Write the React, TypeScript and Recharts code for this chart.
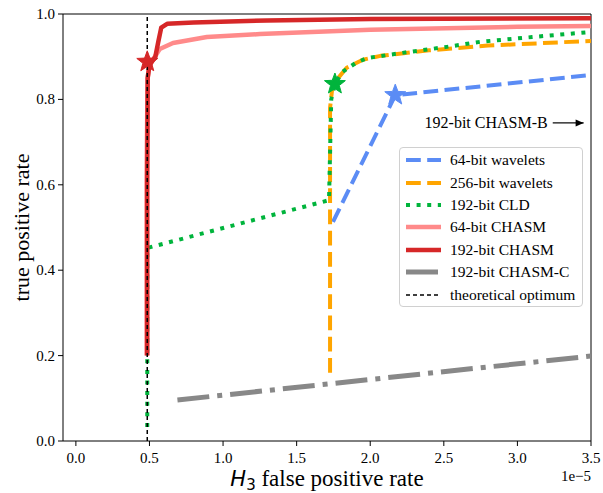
import {
  ComposedChart,
  Line,
  Scatter,
  XAxis,
  YAxis,
  ReferenceLine,
} from "recharts";

// x values are in units of 1e-5
const xTicks = [0, 0.5, 1, 1.5, 2, 2.5, 3, 3.5];
const yTicks = [0, 0.2, 0.4, 0.6, 0.8, 1.0];

const wavelets64: [number, number][] = [
  [1.747, 0.513],
  [2.17, 0.81],
  [3.5, 0.857],
];
const wavelets256: [number, number][] = [
  [1.727, 0.16],
  [1.727, 0.78],
  [1.74, 0.82],
  [1.77, 0.845],
  [1.84, 0.874],
  [1.95, 0.893],
  [2.07, 0.902],
  [2.4, 0.915],
  [2.8, 0.926],
  [3.5, 0.937],
];
const cld192: [number, number][] = [
  [0.485, 0.033],
  [0.485, 0.452],
  [1.72, 0.564],
  [1.735, 0.8],
  [1.76, 0.836],
  [1.81, 0.864],
  [1.9, 0.885],
  [1.98, 0.897],
  [2.22, 0.909],
  [2.52, 0.923],
  [2.75, 0.935],
  [3.1, 0.946],
  [3.5, 0.958],
];
const chasm64: [number, number][] = [
  [0.48, 0.2],
  [0.48, 0.6],
  [0.487, 0.85],
  [0.5, 0.88],
  [0.57, 0.918],
  [0.66, 0.932],
  [0.89, 0.946],
  [1.25, 0.953],
  [2.0, 0.963],
  [3.0, 0.97],
  [3.5, 0.972],
];
const chasm192: [number, number][] = [
  [0.485, 0.2],
  [0.485, 0.6],
  [0.488, 0.85],
  [0.5, 0.88],
  [0.54, 0.9],
  [0.56, 0.935],
  [0.58, 0.968],
  [0.62, 0.977],
  [0.8, 0.98],
  [1.3, 0.985],
  [2.0, 0.988],
  [3.5, 0.99],
];
const chasmC192: [number, number][] = [
  [0.69, 0.096],
  [3.5, 0.199],
];
const optimum: [number, number][] = [
  [0.485, 0],
  [0.485, 1],
];

const chasmStar: [number, number][] = [[0.485, 0.888]];
const cldStar: [number, number][] = [[1.76, 0.836]];
const waveletStar: [number, number][] = [[2.17, 0.81]];

const toData = (pts: [number, number][]) => pts.map(([x, y]) => ({ x, y }));

const SERIF = "'Liberation Serif', 'Times New Roman', serif";

const series = [
  { name: "64-bit wavelets", data: wavelets64, color: "#5b8cf5", width: 4, dash: "14.8 6.4" },
  { name: "256-bit wavelets", data: wavelets256, color: "#ffa500", width: 4, dash: "14.8 6.4" },
  { name: "192-bit CLD", data: cld192, color: "#00b43c", width: 4, dash: "4 6.6" },
  { name: "64-bit CHASM", data: chasm64, color: "#ff8a8a", width: 4.5, dash: undefined },
  { name: "192-bit CHASM", data: chasm192, color: "#d62728", width: 4.5, dash: undefined },
  { name: "192-bit CHASM-C", data: chasmC192, color: "#888888", width: 5, dash: "32 8 5 8" },
  { name: "theoretical optimum", data: optimum, color: "#000000", width: 1.5, dash: "4 3" },
];

function Star(props: any) {
  const { cx, cy, fill } = props;
  const outer = 11;
  const inner = 4.6;
  const pts: string[] = [];
  for (let i = 0; i < 10; i++) {
    const r = i % 2 === 0 ? outer : inner;
    const a = -Math.PI / 2 + (i * Math.PI) / 5;
    pts.push(`${cx + r * Math.cos(a)},${cy + r * Math.sin(a)}`);
  }
  return <polygon points={pts.join(" ")} fill={fill} stroke={fill} strokeWidth={1} />;
}

function XTick(props: any) {
  const { x, y, payload } = props;
  return (
    <text x={x} y={y + 14} textAnchor="middle" fontFamily={SERIF} fontSize={15} fill="#000">
      {payload.value.toFixed(1)}
    </text>
  );
}

function YTick(props: any) {
  const { x, y, payload } = props;
  return (
    <text x={x} y={y + 5} textAnchor="end" fontFamily={SERIF} fontSize={15} fill="#000">
      {payload.value.toFixed(1)}
    </text>
  );
}

function LegendBox() {
  return (
    <div
      style={{
        position: "absolute",
        left: 399,
        top: 147,
        width: 184,
        height: 160,
        border: "1px solid #d0d0d0",
        borderRadius: 4,
        background: "rgba(255,255,255,0.85)",
        fontFamily: SERIF,
        fontSize: 15.5,
        paddingTop: 1,
        boxSizing: "border-box",
      }}
    >
      {series.map((s) => (
        <div key={s.name} style={{ display: "flex", alignItems: "center", height: 22.4 }}>
          <svg width={50} height={10} style={{ flex: "none" }}>
            <line
              x1={6}
              x2={41}
              y1={5}
              y2={5}
              stroke={s.color}
              strokeWidth={s.width}
              strokeDasharray={s.dash}
            />
          </svg>
          <span style={{ color: "#000", whiteSpace: "nowrap" }}>{s.name}</span>
        </div>
      ))}
    </div>
  );
}

const annotationLabel = (props: any) => {
  const { viewBox } = props;
  const x1 = viewBox.x;
  const x2 = viewBox.x + viewBox.width;
  const y = viewBox.y;
  return (
    <g>
      <text x={x1 - 5} y={y + 5} textAnchor="end" fontFamily={SERIF} fontSize={16} fill="#000">
        192-bit CHASM-B
      </text>
      <polygon points={`${x2},${y} ${x2 - 8},${y - 3.5} ${x2 - 8},${y + 3.5}`} fill="#000" />
    </g>
  );
};

export default function App() {
  return (
    <div style={{ position: "absolute", left: 0, top: 0, width: 603, height: 493, background: "#fff" }}>
      <ComposedChart
        width={603}
        height={493}
        margin={{ top: 14, right: 12, left: 0, bottom: 0 }}
      >
        <XAxis
          type="number"
          dataKey="x"
          domain={[-0.0875, 3.5]}
          ticks={xTicks}
          allowDataOverflow
          height={52}
          tick={<XTick />}
          tickSize={5}
          tickMargin={3}
          stroke="#000"
          label={(p: any) => {
            const vb = p.viewBox;
            const cx = vb.x + vb.width / 2;
            return (
              <g>
                <text x={cx} y={486} textAnchor="middle" fontFamily={SERIF} fontSize={23} fill="#000">
                  <tspan fontStyle="italic" fontFamily="'DejaVu Sans', sans-serif" fontSize={21}>H</tspan>
                  <tspan fontSize={15} dy={4} fontFamily="'DejaVu Sans', sans-serif">3</tspan>
                  <tspan dy={-4}> false positive rate</tspan>
                </text>
                <text x={vb.x + vb.width} y={481} textAnchor="end" fontFamily={SERIF} fontSize={15} fill="#000">
                  1e−5
                </text>
              </g>
            );
          }}
        />
        <YAxis
          type="number"
          domain={[0, 1]}
          ticks={yTicks}
          width={63}
          tick={<YTick />}
          tickSize={5}
          tickMargin={3}
          stroke="#000"
          label={(p: any) => {
            const vb = p.viewBox;
            const cy = vb.y + vb.height / 2;
            return (
              <text
                x={29}
                y={cy}
                transform={`rotate(-90, 29, ${cy})`}
                textAnchor="middle"
                fontFamily={SERIF}
                fontSize={22}
                fill="#000"
              >
                true positive rate
              </text>
            );
          }}
        />
        <ReferenceLine y={1} stroke="#000" strokeWidth={1} />
        <ReferenceLine x={3.5} stroke="#000" strokeWidth={1} />

        {series.map((s) => (
          <Line
            key={s.name}
            data={toData(s.data)}
            dataKey="y"
            type="linear"
            stroke={s.color}
            strokeWidth={s.width}
            strokeDasharray={s.dash}
            strokeLinecap="butt"
            strokeLinejoin="round"
            dot={false}
            activeDot={false}
            isAnimationActive={false}
            legendType="none"
          />
        ))}

        <Scatter data={toData(chasmStar)} dataKey="y" fill="#d62728" shape={Star} isAnimationActive={false} legendType="none" />
        <Scatter data={toData(cldStar)} dataKey="y" fill="#00b43c" shape={Star} isAnimationActive={false} legendType="none" />
        <Scatter data={toData(waveletStar)} dataKey="y" fill="#5b8cf5" shape={Star} isAnimationActive={false} legendType="none" />

        <ReferenceLine
          segment={[
            { x: 3.24, y: 0.745 },
            { x: 3.45, y: 0.745 },
          ]}
          stroke="#000"
          strokeWidth={1.2}
          label={annotationLabel}
        />
      </ComposedChart>
      <LegendBox />
    </div>
  );
}
